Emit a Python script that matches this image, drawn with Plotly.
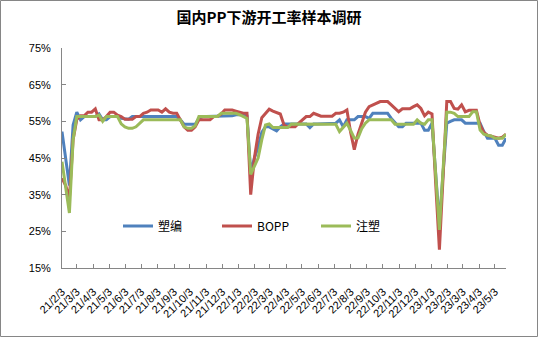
import pandas as pd
import plotly.graph_objects as go

# weekly survey dates (first survey 2021-02-03)
dates = pd.date_range(start="2021-02-03", periods=121, freq="7D")

series_names = ["塑编", "BOPP", "注塑"]

suobian = [52.2, 45, 37.5, 54, 57.5, 55.4, 56.3, 56.3, 56.3, 56.3,
           57, 55.4, 55.4, 56.3, 56.3, 56.3, 55.8, 55.6, 55.6, 56.3,
           56.3, 56.3, 56.3, 56.3, 56.3, 56.3, 56.3, 56.3, 56.3, 56.3,
           56.3, 56.3, 55.4, 54.2, 54.2, 54.2, 54.2, 55.8, 56.3, 56.3,
           56.3, 56.3, 56.3, 56.3, 56.5, 56.5, 56.5, 56.8, 56.8, 56.8,
           56.5, 41, 45, 48, 52, 53.5, 53.5, 53, 52.4, 53.5,
           54.3, 54.3, 54.3, 54.3, 54.3, 54.3, 54.3, 53.3, 54.3, 54.3,
           54.3, 54.3, 54.3, 54.3, 54.5, 55.4, 53.5, 55.4, 55.4, 55.4,
           56.3, 56.3, 56.3, 55.8, 57.2, 57.2, 57.2, 57.2, 57.2, 55.8,
           54.5, 53.5, 53.5, 54.5, 54.5, 54.5, 54.5, 54.5, 52.6, 52.6,
           54.5, 41, 27, 41, 54.5, 55, 55.4, 55.4, 55.4, 54.5,
           54.5, 54.5, 54.5, 54.5, 52.2, 50.4, 50.4, 50.4, 48.5, 48.5,
           50.4]

bopp = [39.5, 37.5, 34, 50, 55.5, 56.5, 56.5, 57.5, 57.5, 58.4,
        55.4, 55.4, 56.3, 57.5, 57.5, 56.7, 56.3, 55.6, 55.6, 55.6,
        56.3, 56.3, 57.2, 57.5, 58.1, 58.1, 58.1, 57.5, 58.4, 57.5,
        57.2, 57.2, 55.4, 53.5, 52.6, 52.6, 53.5, 55.4, 55.4, 55.4,
        55.4, 56.3, 56.3, 57, 58.1, 58.1, 58.1, 57.8, 57.4, 57.2,
        57.2, 35, 45, 51.5, 56, 57.2, 58.3, 57.8, 57.4, 57,
        54, 53.5, 53.5, 53.5, 54.5, 55.4, 56.3, 56.3, 57.2, 56.8,
        56.4, 56.4, 56.4, 56.4, 57.2, 57.2, 57.5, 58.1, 52, 47.3,
        51.5, 54.5, 57.5, 59, 59.5, 60, 60.4, 60.4, 60.4, 59.5,
        58.5, 57.6, 58.4, 58.4, 58.4, 59, 59.5, 58.5, 56.5, 57.5,
        57, 38, 20, 40, 60.4, 60.4, 58.5, 58.3, 59.5, 57.6,
        58, 58, 58, 54, 52, 51.2, 51, 50.6, 50.4, 50.7,
        51.5]

zhusu = [44, 37, 30, 50, 56.3, 56.3, 56.3, 56.3, 56.3, 56.3,
         56.7, 55, 56.3, 56.3, 56.3, 56.3, 54.3, 53.5, 53.1, 53.1,
         53.5, 54.5, 55.4, 55.4, 55.4, 55.4, 55.4, 55.4, 55.4, 55.4,
         55.4, 55.4, 55.4, 53.5, 53.1, 53.1, 53.8, 56.3, 56.3, 56.3,
         56.3, 56.3, 56.3, 57.2, 57.2, 57.2, 57.2, 57.2, 56.8, 56.3,
         55.8, 40.5, 43, 45, 50, 54, 54.3, 53.3, 53.3, 53.3,
         53.3, 53.3, 54.3, 54.3, 54.3, 54.3, 54.3, 54.3, 54.3, 54.3,
         54.3, 54.3, 54.3, 54.3, 54.2, 52.2, 53.5, 54.5, 52.5, 50.4,
         50.5, 53, 54.5, 55.4, 55.4, 55.4, 55.4, 55.4, 55.4, 55.4,
         54.2, 54.2, 54.2, 54.2, 54.2, 54.2, 55.4, 54.5, 54.2, 55.4,
         55.4, 40, 25.4, 42, 57.5, 57.5, 57.2, 56.3, 56.3, 56.3,
         56.3, 57.6, 57.6, 52.6, 51.5, 51.2, 51, 50.4, 50.4, 50.4,
         51.5]

y_ticks = [15, 25, 35, 45, 55, 65, 75]
y_tick_text = [f"{v}%" for v in y_ticks]

colors = ["#4F81BD", "#C0504D", "#9BBB59"]
values = [suobian, bopp, zhusu]

fig = go.Figure()
for name, vals, col in zip(series_names, values, colors):
    fig.add_trace(go.Scatter(
        x=dates, y=vals, name=name, mode="lines",
        line=dict(color=col, width=3),
    ))

W, H = 538, 337
L, R, T, B = 62, 32, 48, 69
pw, ph = W - L - R, H - T - B

fig.update_layout(
    width=W, height=H,
    margin=dict(l=L, r=R, t=T, b=B, pad=0),
    paper_bgcolor="white", plot_bgcolor="white",
    font=dict(family="Noto Sans CJK SC, DejaVu Sans", size=11, color="black"),
    title=dict(text="<b>国内PP下游开工率样本调研</b>", x=0.5, xref="container",
               y=1 - 18 / H, yref="container", yanchor="middle", xanchor="center",
               font=dict(size=15, color="black")),
    showlegend=True,
    legend=dict(orientation="h", x=(118 - L) / pw, y=(T + ph - 226) / ph,
                xanchor="left", yanchor="middle", bgcolor="rgba(0,0,0,0)",
                entrywidth=54, entrywidthmode="pixels",
                font=dict(size=12, family="Noto Sans CJK SC")),
    xaxis=dict(
        type="date",
        range=["2021-02-03", "2023-05-24"],
        tick0="2021-02-03", dtick="M1", tickformat="%y/%-m/%-d",
        tickangle=-45, ticks="inside", ticklen=4, tickcolor="#868686",
        ticklabelstandoff=12,
        showline=True, linecolor="#868686", linewidth=1,
        showgrid=False, zeroline=False,
        tickfont=dict(size=11, family="Liberation Sans"),
    ),
    yaxis=dict(
        range=[15, 75], tickvals=y_ticks, ticktext=y_tick_text,
        ticks="inside", ticklen=4, tickcolor="#868686",
        ticklabelstandoff=8,
        showline=True, linecolor="#868686", linewidth=1,
        showgrid=False, zeroline=False,
        tickfont=dict(size=11, family="Liberation Sans"),
    ),
)

# outer chart border
fig.add_shape(type="rect", xref="paper", yref="paper",
              x0=(0.5 - L) / pw, x1=(W - 0.5 - L) / pw,
              y0=(T + ph - (H - 0.5)) / ph, y1=(T + ph - 0.5) / ph,
              line=dict(color="#868686", width=1), fillcolor="rgba(0,0,0,0)",
              layer="below")

fig.write_html("out.html")
